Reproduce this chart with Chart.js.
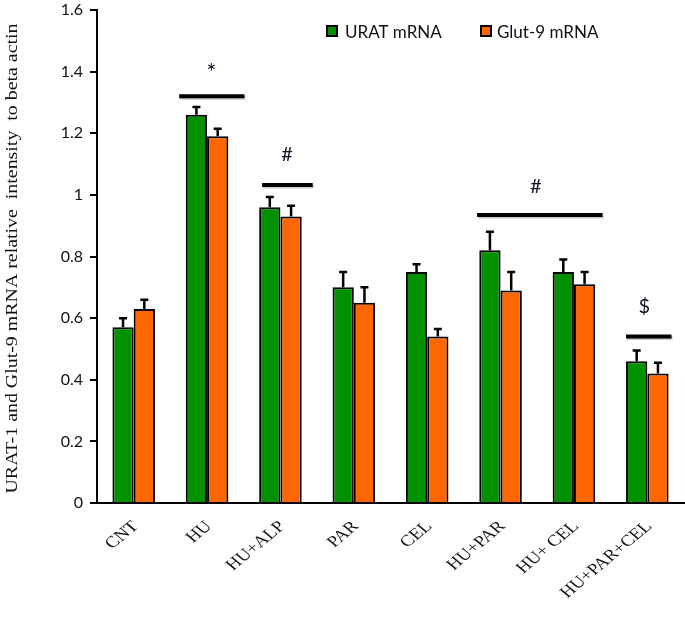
<!DOCTYPE html>
<html>
<head>
<meta charset="utf-8">
<script src="https://cdn.jsdelivr.net/npm/chart.js@4.4.1/dist/chart.umd.min.js"></script>
<style>
  html, body { margin: 0; padding: 0; background: #ffffff; }
  #wrap { width: 685px; height: 620px; position: relative; }
</style>
</head>
<body>
<div id="wrap"><canvas id="c" width="685" height="620"></canvas></div>
<script>
const categories = ['CNT', 'HU', 'HU+ALP', 'PAR', 'CEL', 'HU+PAR', 'HU+ CEL', 'HU+PAR+CEL'];
const seriesNames = ['URAT mRNA', 'Glut-9 mRNA'];
const uratValues = [0.57, 1.26, 0.96, 0.70, 0.75, 0.82, 0.75, 0.46];
const uratErrors = [0.03, 0.025, 0.033, 0.05, 0.025, 0.06, 0.04, 0.035];
const glutValues = [0.63, 1.19, 0.93, 0.65, 0.54, 0.69, 0.71, 0.42];
const glutErrors = [0.03, 0.025, 0.035, 0.05, 0.025, 0.06, 0.04, 0.035];
const yTickValues = [0, 0.2, 0.4, 0.6, 0.8, 1, 1.2, 1.4, 1.6];
const yTitle = 'URAT-1 and Glut-9 mRNA relative  intensity  to beta actin';
// significance markers: symbol, category-index span of bar, value of bar, value of symbol
const sigSymbols = ['*', '#', '#', '$'];
const sigFrom = [0.62, 1.75, 4.68, 6.71];
const sigTo = [1.51, 2.44, 6.39, 7.33];
const sigLineValue = [1.32, 1.032, 0.935, 0.54];
const sigTextIndex = [1.06, 2.09, 5.48, 6.96];
const sigTextValue = [1.41, 1.13, 1.026, 0.636];

const GREEN = '#009000';
const ORANGE = '#ff6600';
const errorsBySeries = [uratErrors, glutErrors];
const valuesBySeries = [uratValues, glutValues];
const SERIF = '"Liberation Serif", "Times New Roman", serif';
const SANS = 'Lato, "Open Sans", sans-serif';

const errorBarPlugin = {
  id: 'errorBars',
  afterDatasetsDraw(chart) {
    const ctx = chart.ctx;
    const y = chart.scales.y;
    ctx.save();
    ctx.strokeStyle = '#000';
    ctx.lineWidth = 2.5;
    chart.data.datasets.forEach((ds, i) => {
      const meta = chart.getDatasetMeta(i);
      meta.data.forEach((bar, j) => {
        const top = y.getPixelForValue(valuesBySeries[i][j] + errorsBySeries[i][j]);
        ctx.beginPath();
        ctx.moveTo(bar.x, bar.y);
        ctx.lineTo(bar.x, top);
        ctx.moveTo(bar.x - 4, top);
        ctx.lineTo(bar.x + 4, top);
        ctx.stroke();
      });
    });
    ctx.restore();
  }
};

const sigPlugin = {
  id: 'sigMarks',
  afterDatasetsDraw(chart) {
    const ctx = chart.ctx;
    const x = chart.scales.x, y = chart.scales.y;
    ctx.save();
    for (let k = 0; k < sigSymbols.length; k++) {
      const py = y.getPixelForValue(sigLineValue[k]);
      ctx.strokeStyle = 'rgba(0,0,0,0.22)';
      ctx.lineWidth = 4;
      ctx.beginPath();
      ctx.moveTo(x.getPixelForValue(sigFrom[k]) + 1, py + 1.5);
      ctx.lineTo(x.getPixelForValue(sigTo[k]) + 1, py + 1.5);
      ctx.stroke();
      ctx.strokeStyle = '#000';
      ctx.beginPath();
      ctx.moveTo(x.getPixelForValue(sigFrom[k]), py);
      ctx.lineTo(x.getPixelForValue(sigTo[k]), py);
      ctx.stroke();
      ctx.fillStyle = '#111122';
      ctx.font = (sigSymbols[k] === '*' ? '24px ' : '20px ') + SANS;
      ctx.textAlign = 'center';
      ctx.textBaseline = 'middle';
      const ty = y.getPixelForValue(sigTextValue[k]) + (sigSymbols[k] === '*' ? 4 : 0);
      ctx.fillText(sigSymbols[k], x.getPixelForValue(sigTextIndex[k]), ty);
    }
    ctx.restore();
  }
};

const textPlugin = {
  id: 'textLayer',
  afterDraw(chart) {
    const ctx = chart.ctx;
    const xs = chart.scales.x, area = chart.chartArea;
    ctx.save();
    // legend
    const items = [
      { color: GREEN, label: seriesNames[0], bx: 327, tx: 345 },
      { color: ORANGE, label: seriesNames[1], bx: 481, tx: 497 }
    ];
    items.forEach(it => {
      ctx.fillStyle = it.color;
      ctx.fillRect(it.bx, 26, 10, 10);
      ctx.strokeStyle = '#000';
      ctx.lineWidth = 2;
      ctx.strokeRect(it.bx, 26, 10, 10);
      ctx.fillStyle = '#111';
      ctx.font = '17px ' + SANS;
      ctx.textAlign = 'left';
      ctx.textBaseline = 'alphabetic';
      ctx.fillText(it.label, it.tx, 37.5);
    });
    // x category labels (rotated 45deg, slightly widened like the reference)
    ctx.fillStyle = '#111';
    ctx.font = '16px ' + SERIF;
    ctx.textAlign = 'right';
    ctx.textBaseline = 'middle';
    categories.forEach((lab, i) => {
      ctx.save();
      ctx.translate(xs.getPixelForValue(i) + 2, area.bottom + 21);
      ctx.scale(1.2, 1);
      ctx.rotate(-Math.PI / 4);
      ctx.fillText(lab, 0, 0);
      ctx.restore();
    });
    // y axis title (vertical)
    ctx.save();
    ctx.translate(13, (area.top + area.bottom) / 2 + 2);
    ctx.rotate(-Math.PI / 2);
    ctx.font = '16px ' + SERIF;
    ctx.textAlign = 'center';
    ctx.textBaseline = 'middle';
    const w = ctx.measureText(yTitle).width;
    ctx.scale(470 / w, 1.0);
    ctx.fillText(yTitle, 0, 0);
    ctx.restore();
    ctx.restore();
  }
};

new Chart(document.getElementById('c'), {
  type: 'bar',
  data: {
    labels: categories,
    datasets: [
      { label: seriesNames[0], data: uratValues, backgroundColor: GREEN, borderColor: '#000', borderWidth: 2 },
      { label: seriesNames[1], data: glutValues, backgroundColor: ORANGE, borderColor: '#000', borderWidth: 2 }
    ]
  },
  options: {
    responsive: false,
    animation: false,
    layout: { padding: { top: 10, right: 1, left: 0, bottom: 0 } },
    plugins: { legend: { display: false }, tooltip: { enabled: false } },
    datasets: { bar: { categoryPercentage: 0.58, barPercentage: 1.0 } },
    scales: {
      x: {
        grid: { display: false, drawTicks: false },
        border: { color: '#000', width: 2 },
        ticks: { display: false },
        afterFit(s) { s.height = 117; s.paddingLeft = 0; s.paddingRight = 0; }
      },
      y: {
        min: 0, max: 1.6,
        afterBuildTicks(s) { s.ticks = yTickValues.map(v => ({ value: v })); },
        grid: { drawOnChartArea: false, drawTicks: true, tickLength: 7, color: '#000', lineWidth: 2 },
        border: { color: '#000', width: 2 },
        ticks: {
          color: '#111', padding: 7,
          font: { family: SANS, size: 16 },
          callback(v) { return String(Math.round(v * 10) / 10); }
        },
        afterFit(s) { s.width = 97; s.paddingTop = 0; s.paddingBottom = 0; }
      }
    }
  },
  plugins: [errorBarPlugin, sigPlugin, textPlugin]
});
</script>
</body>
</html>
